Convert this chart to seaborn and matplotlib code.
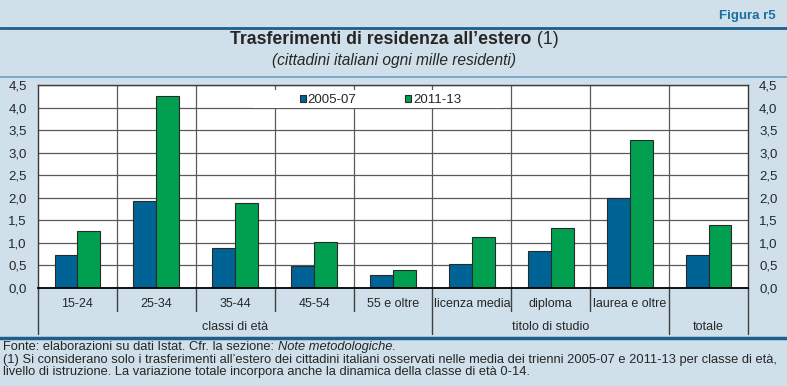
import numpy as np
import pandas as pd
import matplotlib
matplotlib.use('Agg')
import matplotlib.pyplot as plt
from matplotlib.lines import Line2D
from matplotlib.patches import Rectangle
import seaborn as sns

# data
categories = ['15-24', '25-34', '35-44', '45-54', '55 e oltre',
              'licenza media', 'diploma', 'laurea e oltre', 'totale']
category_labels = ['15-24', '25-34', '35-44', '45-54', '55 e oltre',
                   'licenza media', 'diploma', 'laurea e oltre', '']
periods = ['2005-07', '2011-13']
values_0507 = [0.73, 1.93, 0.89, 0.48, 0.29, 0.53, 0.83, 1.99, 0.73]
values_1113 = [1.26, 4.26, 1.88, 1.02, 0.39, 1.14, 1.32, 3.29, 1.40]
groups = ['classi di età', 'titolo di studio', 'totale']
group_sizes = [5, 3, 1]
yticks = np.arange(0, 4.51, 0.5)

df = pd.DataFrame({
    'categoria': categories * 2,
    'periodo': [periods[0]] * len(categories) + [periods[1]] * len(categories),
    'valore': values_0507 + values_1113,
})

sns.set_style('white')
plt.rcParams['font.family'] = ['Liberation Sans', 'DejaVu Sans']

bg = '#cfe0ea'
dark_blue = '#1d5e8c'
W, H = 787, 386

fig = plt.figure(figsize=(7.87, 3.86), dpi=100, facecolor=bg)
ax = fig.add_axes([38 / W, 1 - 288 / H, 710 / W, 203 / H])
ax.set_facecolor('white')

sns.barplot(data=df, x='categoria', y='valore', hue='periodo',
            palette=['#006395', '#00a050'], saturation=1, width=0.58,
            edgecolor='#2a2a2a', linewidth=0.8, ax=ax)

ax.set_xlim(-0.5, len(categories) - 0.5)
ax.set_ylim(0, 4.5)
ax.set_yticks(yticks)
ax.set_yticklabels([f'{t:.1f}'.replace('.', ',') for t in yticks])
ax.set_xticks(np.arange(0.5, len(categories) - 1, 1))
ax.set_xticklabels([])
ax.set_xlabel('')
ax.set_ylabel('')
ax.tick_params(axis='y', labelright=True, length=0, labelsize=9.5, pad=8)
ax.tick_params(axis='x', length=0)
ax.set_axisbelow(True)
ax.grid(True, color='#5a5a5a', linewidth=0.9)
for s in ax.spines.values():
    s.set_color('#3a3a3a')
    s.set_linewidth(1)
ax.spines['bottom'].set_color('black')
ax.spines['bottom'].set_linewidth(1.3)

# white box behind the legend, hiding the grid
ax.add_patch(Rectangle((215 / 710, 180 / 203), 250 / 710, 18 / 203, transform=ax.transAxes,
                       facecolor='white', edgecolor='none', zorder=1.5))
ax.legend(loc='center', bbox_to_anchor=(0.4824, 0.926), ncol=2, frameon=False,
          fontsize=9.5, handlelength=0.45, handleheight=0.45, handletextpad=0.15,
          columnspacing=3.7, borderpad=0)

# labels and separators under the axis
trans = ax.get_xaxis_transform()
short_y = -23 / 203
long_y = -46 / 203
edges = np.cumsum([0] + group_sizes) - 0.5
for b in np.arange(-0.5, len(categories), 1):
    y_end = long_y if b in edges else short_y
    ax.plot([b, b], [0, y_end], transform=trans, color='#404040', lw=1, clip_on=False)
for i, c in enumerate(category_labels):
    ax.text(i, -16 / 203, c, transform=trans, ha='center', va='center', fontsize=9)
for g, a, b in zip(groups, edges[:-1], edges[1:]):
    ax.text((a + b) / 2, -39 / 203, g, transform=trans, ha='center', va='center', fontsize=9)

# header
fig.text(776 / W, 1 - 16 / H, 'Figura r5', ha='right', va='center', fontsize=9.5,
         fontweight='bold', color='#1b6fa3')
fig.add_artist(Line2D([0, 1], [1 - 28 / H] * 2, transform=fig.transFigure, color=dark_blue, lw=2))
fig.add_artist(Line2D([0, 1], [1 - 77 / H] * 2, transform=fig.transFigure, color='#6a9fc0', lw=1.2))
fig.add_artist(Line2D([0, 1], [1 - 338 / H] * 2, transform=fig.transFigure, color=dark_blue, lw=2.5))

fig.canvas.draw()
r = fig.canvas.get_renderer()
t1 = fig.text(0, 1 - 40 / H, 'Trasferimenti di residenza all\u2019estero', fontsize=12.7,
              fontweight='bold', va='center')
t2 = fig.text(0, 1 - 40 / H, ' (1)', fontsize=12.7, va='center')
w1 = t1.get_window_extent(r).width
w2 = t2.get_window_extent(r).width
x0 = (230 + 559 - w1 - w2) / 2 / W
t1.set_x(x0)
t2.set_x(x0 + w1 / W)
fig.text(393.5 / W, 1 - 60 / H, '(cittadini italiani ogni mille residenti)', ha='center',
         va='center', fontsize=11.2, style='italic')

# footer
fs = 9.3
f1 = fig.text(3 / W, 1 - 347 / H, 'Fonte: elaborazioni su dati Istat. Cfr. la sezione: ',
              fontsize=fs, va='center')
w = f1.get_window_extent(r).width
f2 = fig.text(3 / W + w / W, 1 - 347 / H, 'Note metodologiche', fontsize=fs, va='center',
              style='italic')
w += f2.get_window_extent(r).width
fig.text(3 / W + w / W, 1 - 347 / H, '.', fontsize=fs, va='center')
fig.text(3 / W, 1 - 359.5 / H,
         '(1) Si considerano solo i trasferimenti all\u2019estero dei cittadini italiani osservati '
         'nelle media dei trienni 2005-07 e 2011-13 per classe di età,', fontsize=fs, va='center')
fig.text(3 / W, 1 - 372 / H,
         'livello di istruzione. La variazione totale incorpora anche la dinamica della classe di età 0-14.',
         fontsize=fs, va='center')

fig.savefig('out.png', dpi=100, facecolor=bg)
